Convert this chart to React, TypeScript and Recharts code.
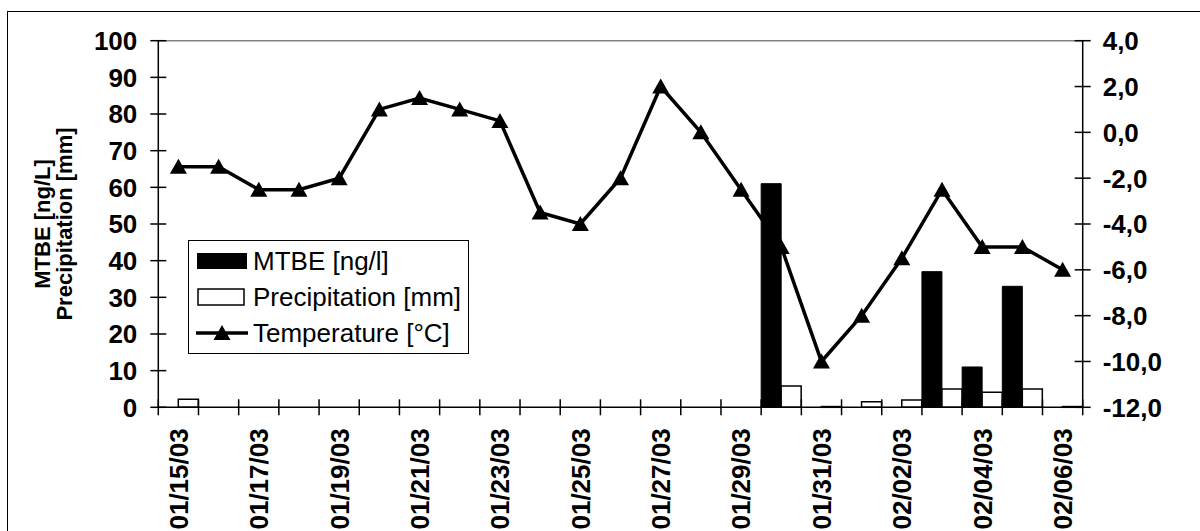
import React from 'react';
import { ComposedChart, Bar, Line, XAxis, YAxis, ReferenceLine, Legend } from 'recharts';

const FONT = '"Liberation Sans", Arial, sans-serif';

const dates = [
  '01/15/03', '01/16/03', '01/17/03', '01/18/03', '01/19/03', '01/20/03', '01/21/03', '01/22/03',
  '01/23/03', '01/24/03', '01/25/03', '01/26/03', '01/27/03', '01/28/03', '01/29/03', '01/30/03',
  '01/31/03', '02/01/03', '02/02/03', '02/03/03', '02/04/03', '02/05/03', '02/06/03',
];

// MTBE [ng/l], only sampled on a few days
const mtbe = [
  null, null, null, null, null, null, null, null, null, null, null, null, null, null, null,
  61, null, null, null, 37, 11, 33, null,
];

// Precipitation [mm]
const precipitation = [
  2.2, null, null, null, null, null, null, null, null, null, null, null, null, null, null,
  5.8, 0.2, 1.5, 2.0, 5.0, 4.1, 5.0, 0.2,
];

// Temperature [°C]
const temperature = [
  -1.5, -1.5, -2.5, -2.5, -2.0, 1.0, 1.5, 1.0, 0.5, -3.5, -4.0, -2.0, 2.0, 0.0, -2.5, -5.0,
  -10.0, -8.0, -5.5, -2.5, -5.0, -5.0, -6.0,
];

const leftTicks = [0, 10, 20, 30, 40, 50, 60, 70, 80, 90, 100];
const rightTicks = [-12, -10, -8, -6, -4, -2, 0, 2, 4];

const data = dates.map((date, i) => ({
  date,
  mtbe: mtbe[i],
  precipitation: precipitation[i],
  temperature: temperature[i],
}));

const TICK_SIZE = 8;
const LEFT_MARGIN = 13;
const RIGHT_MARGIN = 12;
const X_MARGIN = 13;

const LeftTick = ({ x, y, payload }: any) => {
  const ax = x + TICK_SIZE + LEFT_MARGIN;
  return (
    <g>
      <line x1={ax - 8} x2={ax + 8} y1={y} y2={y} stroke="#000" strokeWidth={1.5} />
      <text x={x} y={y} dy="0.36em" textAnchor="end" fontFamily={FONT} fontWeight="bold" fontSize={26} fill="#000">
        {payload.value}
      </text>
    </g>
  );
};

const RightTick = ({ x, y, payload }: any) => {
  const ax = x - TICK_SIZE - RIGHT_MARGIN;
  return (
    <g>
      <line x1={ax - 8} x2={ax + 8} y1={y} y2={y} stroke="#000" strokeWidth={1.5} />
      <text x={x} y={y} dy="0.36em" textAnchor="start" fontFamily={FONT} fontWeight="bold" fontSize={26} fill="#000">
        {Number(payload.value).toFixed(1).replace('.', ',')}
      </text>
    </g>
  );
};

// ticks sit on the category boundaries, labels on every second day
const XTick = ({ x, y, payload, index }: any) => {
  const half = payload && payload.offset ? payload.offset : 20.1;
  const ay = y - TICK_SIZE - X_MARGIN;
  const i = index ?? payload.index;
  return (
    <g>
      <line x1={x - half} x2={x - half} y1={ay - 8} y2={ay + 8} stroke="#000" strokeWidth={1.5} />
      {i === dates.length - 1 && (
        <line x1={x + half} x2={x + half} y1={ay - 8} y2={ay + 8} stroke="#000" strokeWidth={1.5} />
      )}
      {i % 2 === 0 && (
        <text
          x={x}
          y={y}
          dy="0.36em"
          textAnchor="end"
          transform={`rotate(-90, ${x}, ${y})`}
          fontFamily={FONT}
          fontWeight="bold"
          fontSize={26}
          fill="#000"
        >
          {payload.value}
        </text>
      )}
    </g>
  );
};

const YTitle = () => (
  <g fontFamily={FONT} fontWeight="bold" fontSize={22} fill="#000" textAnchor="middle">
    <text transform="rotate(-90, 50, 224)" x={50} y={224}>MTBE [ng/L]</text>
    <text transform="rotate(-90, 72, 224)" x={72} y={224}>Precipitation [mm]</text>
  </g>
);

const Triangle = ({ cx, cy, index }: any) => {
  if (cx == null || cy == null) return null;
  return (
    <polygon
      key={`tri-${index}`}
      points={`${cx},${cy - 8} ${cx - 8.5},${cy + 7} ${cx + 8.5},${cy + 7}`}
      fill="#000"
    />
  );
};

const legendItems = [
  { label: 'MTBE [ng/l]', kind: 'solid' },
  { label: 'Precipitation [mm]', kind: 'hollow' },
  { label: 'Temperature [°C]', kind: 'line' },
];

const LegendBox = () => (
  <div
    style={{
      width: 281,
      height: 114,
      boxSizing: 'border-box',
      border: '1px solid #000',
      background: '#fff',
      paddingTop: 2,
      fontFamily: FONT,
      fontSize: 26,
      color: '#000',
    }}
  >
    {legendItems.map((item) => (
      <div key={item.label} style={{ height: 36, display: 'flex', alignItems: 'center' }}>
        <svg width={64} height={36} style={{ flex: 'none' }}>
          {item.kind === 'solid' && <rect x={8} y={10} width={50} height={16} fill="#000" />}
          {item.kind === 'hollow' && (
            <rect x={9} y={10} width={46} height={16} fill="#fff" stroke="#000" strokeWidth={1.5} />
          )}
          {item.kind === 'line' && (
            <g>
              <line x1={7} x2={59} y1={18} y2={18} stroke="#000" strokeWidth={3.5} />
              <polygon points="33,10 24.5,25 41.5,25" fill="#000" />
            </g>
          )}
        </svg>
        <span style={{ whiteSpace: 'nowrap', lineHeight: 1 }}>{item.label}</span>
      </div>
    ))}
  </div>
);

export default function App() {
  return (
    <div
      style={{
        position: 'absolute',
        left: 0,
        top: 0,
        width: 1200,
        height: 531,
        overflow: 'hidden',
        background: '#fff',
      }}
    >
      <div
        style={{
          position: 'absolute',
          left: 7,
          top: 11,
          width: 1300,
          height: 700,
          border: '1.5px solid #000',
        }}
      />
      <ComposedChart
        width={1200}
        height={531}
        data={data}
        margin={{ top: 40.7, right: 0, bottom: 0, left: 0 }}
        barCategoryGap={0}
        barGap={0}
      >
        <XAxis
          dataKey="date"
          interval={0}
          height={123.7}
          tickSize={TICK_SIZE}
          tickMargin={X_MARGIN}
          tickLine={false}
          axisLine={{ stroke: '#000', strokeWidth: 1.5 }}
          tick={<XTick />}
        />
        <YAxis
          yAxisId="left"
          orientation="left"
          width={158.3}
          domain={[0, 100]}
          ticks={leftTicks}
          interval={0}
          tickSize={TICK_SIZE}
          tickMargin={LEFT_MARGIN}
          tickLine={false}
          axisLine={{ stroke: '#000', strokeWidth: 1.5 }}
          tick={<LeftTick />}
          label={<YTitle />}
        />
        <YAxis
          yAxisId="right"
          orientation="right"
          width={117.3}
          domain={[-12, 4]}
          ticks={rightTicks}
          interval={0}
          tickSize={TICK_SIZE}
          tickMargin={RIGHT_MARGIN}
          tickLine={false}
          axisLine={{ stroke: '#000', strokeWidth: 1.5 }}
          tick={<RightTick />}
        />
        <ReferenceLine yAxisId="left" y={100} stroke="#808080" strokeWidth={1.5} />
        <Bar yAxisId="left" dataKey="mtbe" fill="#000" stroke="#000" strokeWidth={1} isAnimationActive={false} />
        <Bar
          yAxisId="left"
          dataKey="precipitation"
          fill="#fff"
          stroke="#000"
          strokeWidth={1.5}
          isAnimationActive={false}
        />
        <Line
          yAxisId="right"
          dataKey="temperature"
          type="linear"
          stroke="#000"
          strokeWidth={3.5}
          dot={<Triangle />}
          activeDot={false}
          isAnimationActive={false}
        />
        <Legend
          content={<LegendBox />}
          layout="horizontal"
          verticalAlign="middle"
          align="center"
          wrapperStyle={{ left: 188, top: 240, width: 'auto' }}
        />
      </ComposedChart>
    </div>
  );
}
